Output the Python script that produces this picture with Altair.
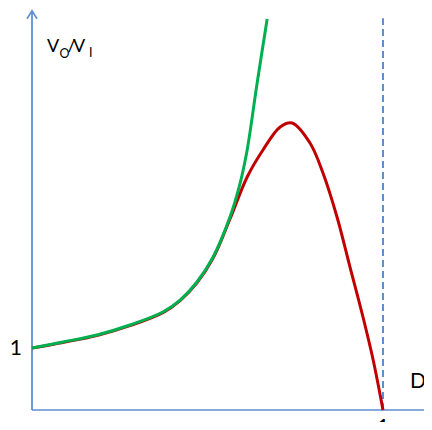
import altair as alt
import pandas as pd

# ---- data ----
ideal_D = [0.0, 0.088, 0.185, 0.279, 0.373, 0.422, 0.470, 0.516, 0.564, 0.593, 0.613, 0.641, 0.670]
ideal_V = [1.0, 1.097, 1.21, 1.371, 1.581, 1.774, 2.065, 2.468, 3.113, 3.661, 4.194, 5.258, 6.306]

real_D = [0.0, 0.088, 0.185, 0.279, 0.373, 0.422, 0.470, 0.516, 0.564, 0.613, 0.658, 0.707,
          0.741, 0.792, 0.829, 0.869, 0.906, 0.943, 0.972, 1.0]
real_V = [1.0, 1.09, 1.20, 1.36, 1.57, 1.765, 2.05, 2.45, 3.08, 3.758, 4.194, 4.565,
          4.629, 4.306, 3.823, 3.113, 2.306, 1.5, 0.806, 0.0]

y_tick_label = "1"
x_tick_label = "1"
x_title = "D"
D_LIMIT = 1.0
Y_AXIS_TOP = 6.44
X_AXIS_END = 1.14
DASH_TOP = 6.32

W, H = 416, 414
xs = alt.Scale(domain=[-24 / 351, (W - 24) / 351], nice=False, zero=False)
ys = alt.Scale(domain=[(402 - H) / 62, 402 / 62], nice=False, zero=False)

AXIS_BLUE = "#5B8FD0"
FONT = "Lato"

real_df = pd.DataFrame({"D": real_D, "V": real_V})
ideal_df = pd.DataFrame({"D": ideal_D, "V": ideal_V})


def X(f="D"):
    return alt.X(f"{f}:Q", scale=xs, axis=None)


def Y(f="V"):
    return alt.Y(f"{f}:Q", scale=ys, axis=None)


one = pd.DataFrame({"D": [0.0], "V": [0.0], "D2": [X_AXIS_END], "V2": [Y_AXIS_TOP]})

y_axis = alt.Chart(one).mark_rule(color=AXIS_BLUE, strokeWidth=1.8).encode(
    x=X("D"), y=Y("V"), y2="V2:Q")
x_axis = alt.Chart(one).mark_rule(color=AXIS_BLUE, strokeWidth=1.6).encode(
    y=Y("V"), x=X("D"), x2="D2:Q")
arrow = alt.Chart(pd.DataFrame({"D": [0.0], "V": [Y_AXIS_TOP]})).mark_point(
    shape="M-5,8L0,0L5,8", size=4, filled=False, color=AXIS_BLUE, strokeWidth=1.6, opacity=1
).encode(x=X("D"), y=Y("V"))

dash = alt.Chart(pd.DataFrame({"D": [D_LIMIT], "V": [0.0], "V2": [DASH_TOP]})).mark_rule(
    color=AXIS_BLUE, strokeWidth=2, strokeDash=[7, 4]).encode(x=X("D"), y=Y("V"), y2="V2:Q")

red = alt.Chart(real_df).mark_line(color="#C00000", strokeWidth=3, interpolate="catmull-rom").encode(
    x=X("D"), y=Y("V"))
green = alt.Chart(ideal_df).mark_line(color="#00B050", strokeWidth=3, interpolate="catmull-rom").encode(
    x=X("D"), y=Y("V"))


def txt(text, D, V, size, dx=0, dy=0, align="left", baseline="alphabetic"):
    return alt.Chart(pd.DataFrame({"D": [D], "V": [V], "t": [text]})).mark_text(
        font=FONT, fontSize=size, color="black", align=align, baseline=baseline, dx=dx, dy=dy
    ).encode(x=X("D"), y=Y("V"), text="t:N")


labels = [
    txt(y_tick_label, 0.0, 1.0, 21, dx=-10, dy=1, align="right", baseline="middle"),
    txt(x_tick_label, D_LIMIT, 0.0, 21, dx=0, dy=7, align="center", baseline="top"),
    txt(x_title, D_LIMIT, 0.0, 21, dx=27, dy=-22),
    # V_O / V_I label
    txt("V", 0.0, Y_AXIS_TOP, 18, dx=15, dy=41),
    txt("O", 0.0, Y_AXIS_TOP, 12.5, dx=27.5, dy=47),
    txt("/", 0.0, Y_AXIS_TOP, 18, dx=35.5, dy=41),
    txt("V", 0.0, Y_AXIS_TOP, 18, dx=41, dy=41),
    txt("I", 0.0, Y_AXIS_TOP, 12.5, dx=57, dy=46),
]

chart = alt.layer(y_axis, x_axis, arrow, dash, red, green, *labels).properties(
    width=W, height=H, autosize=alt.AutoSizeParams(type="none"), padding=0
).configure_view(stroke=None)

chart.save("out.html", embed_options={"renderer": "svg", "actions": False})
